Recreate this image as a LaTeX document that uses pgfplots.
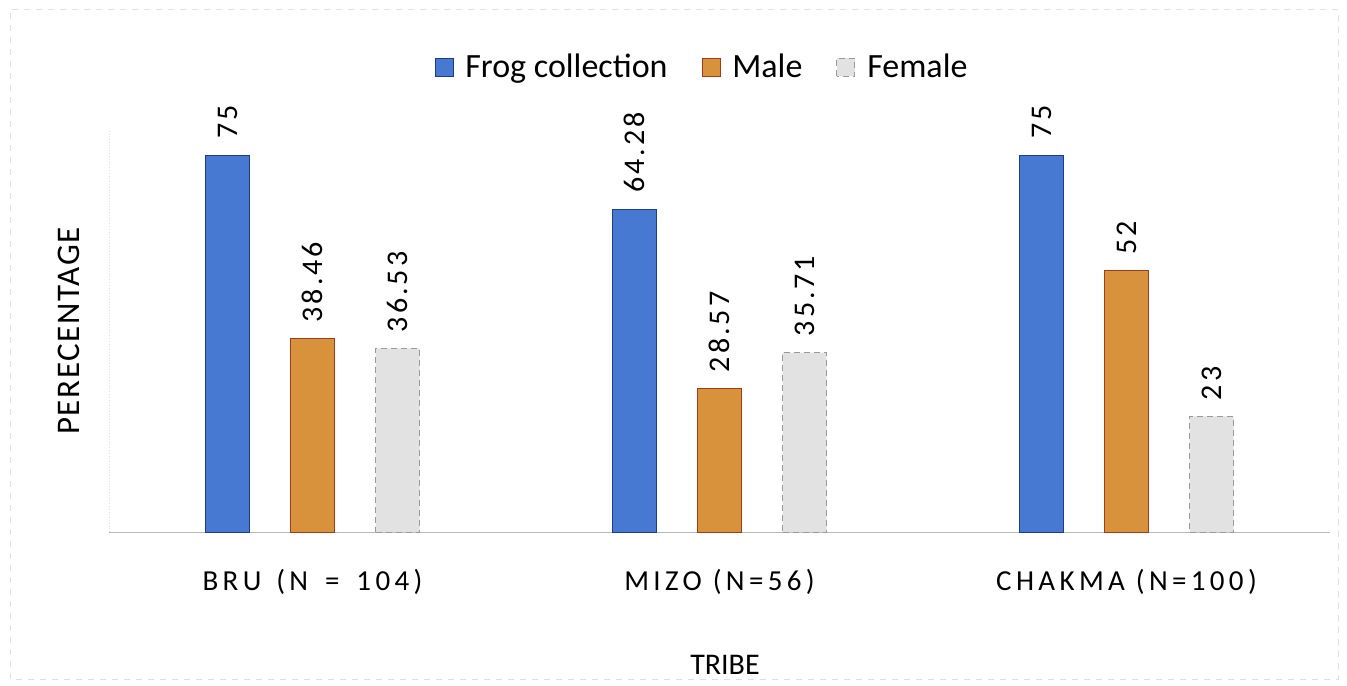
\documentclass[border=0pt]{standalone}
\usepackage{fontspec}
\setmainfont{Carlito}
\usepackage{pgfplots}
\pgfplotsset{compat=1.18}
\definecolor{frogblue}{HTML}{4779D2}
\definecolor{frogedge}{HTML}{1F3C88}
\definecolor{malefill}{HTML}{D9923C}
\definecolor{maleedge}{HTML}{A33A1A}
\definecolor{femfill}{HTML}{E2E2E2}
\definecolor{femedge}{HTML}{9A9A9A}
\begin{document}
\begin{tikzpicture}
\path[use as bounding box] (0,0) rectangle (673.5pt,342.5pt);
\draw[gray!25, dashed] (5pt,3pt) rectangle (669pt,338pt);
\begin{axis}[
  at={(54.5pt,76.5pt)}, anchor=south west,
  scale only axis, width=610.5pt, height=201pt,
  xmin=-0.5, xmax=2.5, ymin=0, ymax=80,
  clip=false,
  axis x line=bottom, axis y line=left,
  x axis line style={gray!55, -},
  y axis line style={gray!25, densely dotted, -},
  ytick=\empty,
  xtick={0,1,2},
  xticklabels={{BRU\hspace{2pt} (N\hspace{3pt} = \hspace{3pt}104)}, MIZO (N=56), CHAKMA (N=100)},
  major tick length=0pt,
  xticklabel style={anchor=center, yshift=-25pt, font=\fontsize{14.5}{16}\selectfont\addfontfeatures{LetterSpace=15}},
  xlabel={TRIBE},
  xlabel style={at={(axis description cs:0.5045,0)}, anchor=center, yshift=-66.5pt, font=\fontsize{15}{17}\selectfont},
  ylabel={PERECENTAGE},
  ylabel style={at={(axis description cs:0,0.5)}, anchor=center, yshift=20pt, font=\fontsize{16.5}{18}\selectfont\addfontfeatures{LetterSpace=5}},
  ybar, bar width=22pt,
  point meta=explicit symbolic,
  nodes near coords,
  nodes near coords style={font=\fontsize{15}{17}\selectfont\addfontfeatures{LetterSpace=10}, rotate=90, anchor=west, inner xsep=8pt, inner ysep=0pt, text=black},
  legend columns=3,
  legend style={at={(axis description cs:0.4865,1.157)}, anchor=center, draw=none, fill=none, font=\fontsize{17}{19}\selectfont, /tikz/every odd column/.append style={column sep=4pt}, /tikz/every even column/.append style={column sep=15pt}},
  legend image code/.code={\draw[#1] (0pt,-4.5pt) rectangle (9pt,4.5pt);},
]
\addplot[fill=frogblue, draw=frogedge, bar shift=-42.5pt] coordinates {(0,75) [75] (1,64.28) [64.28] (2,75) [75]};
\addplot[fill=malefill, draw=maleedge, bar shift=0pt] coordinates {(0,38.46) [38.46] (1,28.57) [28.57] (2,52) [52]};
\addplot[fill=femfill, draw=femedge, densely dashed, bar shift=42.5pt] coordinates {(0,36.53) [36.53] (1,35.71) [35.71] (2,23) [23]};
\legend{Frog collection, Male, Female}
\end{axis}
\end{tikzpicture}
\end{document}
